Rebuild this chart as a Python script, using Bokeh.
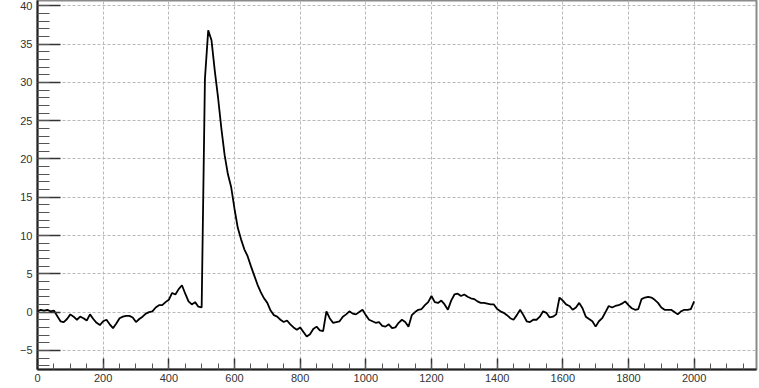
import numpy as np
from bokeh.plotting import figure
from bokeh.models import Range1d, FixedTicker
from bokeh.embed import file_html
from bokeh.resources import INLINE

# signal sampled every 10 units from 0 to 2000
y_vals = [
    0.1, 0.3, 0.2, 0.3, 0.1, 0.2, -0.5, -1.2, -1.3, -0.9,      # 0-90
    -0.3, -0.6, -1.0, -0.6, -0.8, -1.1, -0.3, -0.9, -1.4, -1.7,  # 100-190
    -1.2, -1.0, -1.6, -2.1, -1.5, -0.8, -0.6, -0.5, -0.5, -0.7,  # 200-290
    -1.3, -0.9, -0.6, -0.2, 0.0, 0.1, 0.6, 0.9, 0.9, 1.3,        # 300-390
    1.6, 2.5, 2.3, 3.0, 3.5, 2.4, 1.4, 1.0, 1.3, 0.7,            # 400-490
    0.6, 30.5, 36.8, 35.5, 31.5, 28.0, 24.0, 20.5, 18.0, 16.3,   # 500-590
    13.5, 11.0, 9.5, 8.2, 7.3, 6.0, 4.8, 3.6, 2.6, 1.8,          # 600-690
    1.2, 0.2, -0.4, -0.6, -1.0, -1.3, -1.1, -1.6, -2.0, -2.3,    # 700-790
    -2.0, -2.6, -3.2, -2.9, -2.2, -1.9, -2.4, -2.5, 0.1, -0.8,   # 800-890
    -1.4, -1.3, -1.2, -0.6, -0.3, 0.1, -0.2, -0.3, 0.0, 0.3,     # 900-990
    -0.4, -1.0, -1.2, -1.4, -1.3, -1.8, -1.9, -1.6, -2.1, -2.0,  # 1000-1090
    -1.4, -1.0, -1.3, -1.9, -0.4, 0.0, 0.3, 0.4, 0.9, 1.3,       # 1100-1190
    2.1, 1.3, 1.2, 1.5, 1.0, 0.3, 1.5, 2.3, 2.4, 2.1,            # 1200-1290
    2.3, 2.0, 1.8, 1.7, 1.4, 1.2, 1.2, 1.1, 1.0, 1.0,            # 1300-1390
    0.4, 0.1, -0.1, -0.4, -0.8, -1.0, -0.4, 0.3, -0.4, -1.2,     # 1400-1490
    -1.3, -1.0, -1.0, -0.6, 0.1, -0.1, -0.7, -0.6, -0.3, 1.9,    # 1500-1590
    1.5, 1.0, 0.8, 0.3, 0.6, 1.2, 0.5, -0.6, -0.9, -1.2,         # 1600-1690
    -1.9, -1.2, -0.8, 0.0, 0.8, 0.6, 0.8, 0.9, 1.1, 1.4,         # 1700-1790
    0.9, 0.5, 0.3, 0.4, 1.7, 1.9, 2.0, 1.9, 1.6, 1.2,            # 1800-1890
    0.6, 0.3, 0.3, 0.3, 0.0, -0.3, 0.1, 0.3, 0.3, 0.4,           # 1900-1990
    1.4,                                                          # 2000
]
x_vals = list(range(0, 10 * len(y_vals), 10))

x_major = [0, 200, 400, 600, 800, 1000, 1200, 1400, 1600, 1800, 2000]
x_minor = list(range(0, 2200, 50))
y_major = [-5, 0, 5, 10, 15, 20, 25, 30, 35, 40]
y_minor = list(range(-7, 41, 1))

p = figure(width=759, height=388, output_backend="svg", toolbar_location=None,
           x_range=Range1d(0, 2190), y_range=Range1d(-7.5, 40.7),
           min_border_left=37, min_border_right=3, min_border_top=0,
           min_border_bottom=19)
p.background_fill_color = "white"
p.border_fill_color = "white"
p.outline_line_color = "#8a8a8a"
p.outline_line_width = 2

p.xaxis.ticker = FixedTicker(ticks=x_major, minor_ticks=x_minor)
p.yaxis.ticker = FixedTicker(ticks=y_major, minor_ticks=y_minor)

for ax in (p.xaxis[0], p.yaxis[0]):
    ax.axis_line_color = "#222222"
    ax.axis_line_width = 2
    ax.major_tick_line_color = "#333333"
    ax.minor_tick_line_color = "#555555"
    ax.major_tick_line_width = 1.5
    ax.major_tick_out = 0
    ax.minor_tick_out = 0
    ax.major_label_text_font = "Liberation Sans"
    ax.major_label_text_font_size = "11px"
    ax.major_label_text_color = "#333333"

p.yaxis.major_tick_in = 23
p.yaxis.minor_tick_in = 12
p.xaxis.major_tick_in = 11
p.xaxis.minor_tick_in = 6
p.yaxis.major_label_standoff = 5
p.xaxis.major_label_standoff = 4

p.grid.grid_line_color = "#b8b8b8"
p.grid.grid_line_dash = "3 2"
p.grid.grid_line_width = 1

p.line(x_vals, y_vals, line_color="black", line_width=1.8)

open("out.html", "w").write(file_html(p, INLINE))
